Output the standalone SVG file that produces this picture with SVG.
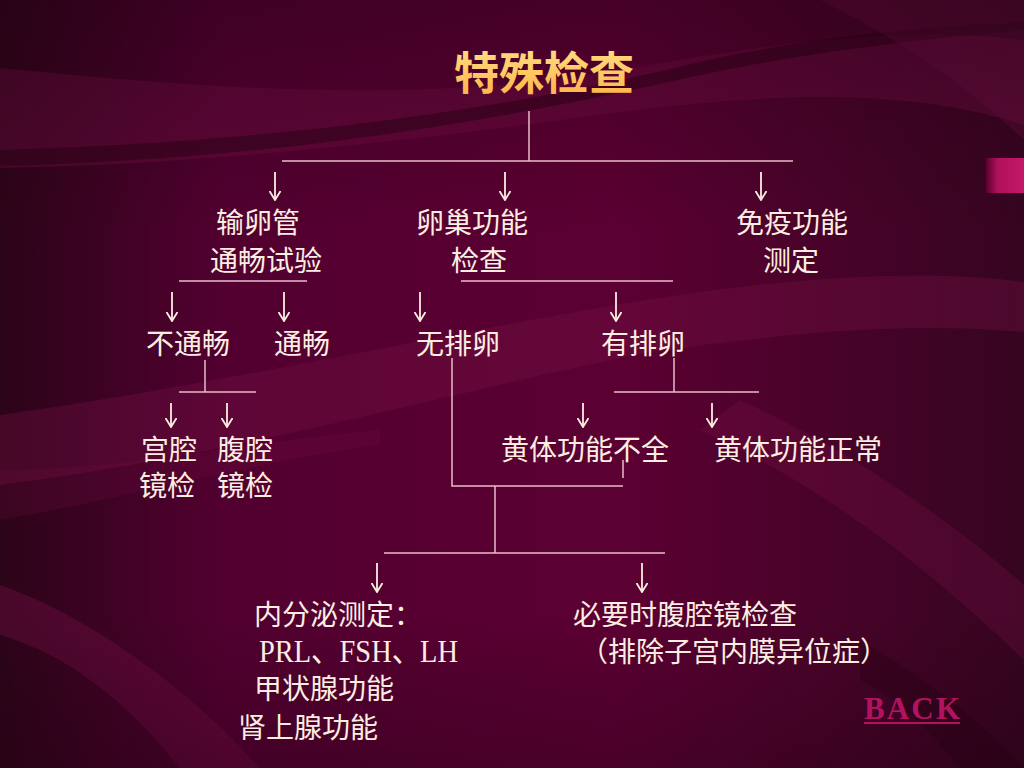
<svg xmlns="http://www.w3.org/2000/svg" width="1024" height="768" viewBox="0 0 1024 768">
<defs>
<linearGradient id="bg" x1="0" y1="0" x2="1" y2="0">
<stop offset="0" stop-color="#2c0418"/>
<stop offset="0.22" stop-color="#520030"/>
<stop offset="0.6" stop-color="#5c0033"/>
<stop offset="1" stop-color="#360520"/>
</linearGradient>
<linearGradient id="vig" x1="0" y1="0" x2="0" y2="1">
<stop offset="0" stop-color="#1e0010" stop-opacity="0.35"/>
<stop offset="0.3" stop-color="#1e0010" stop-opacity="0"/>
<stop offset="0.8" stop-color="#1e0010" stop-opacity="0"/>
<stop offset="1" stop-color="#1e0010" stop-opacity="0.3"/>
</linearGradient>
<linearGradient id="title" x1="0" y1="0" x2="0" y2="1">
<stop offset="0" stop-color="#ffe48e"/>
<stop offset="1" stop-color="#ffb040"/>
</linearGradient>
<linearGradient id="tab" x1="0" y1="0" x2="1" y2="0">
<stop offset="0" stop-color="#5a0030"/>
<stop offset="0.3" stop-color="#b0105a"/>
<stop offset="1" stop-color="#c4186a"/>
</linearGradient>
<marker id="ah" viewBox="0 0 10 12" refX="9.5" refY="6" markerWidth="10" markerHeight="12" markerUnits="userSpaceOnUse" orient="auto">
<path d="M0.5,0.5 L9.5,6 L0.5,11.5" fill="none" stroke="#fbeee0" stroke-width="1.8"/>
</marker>
</defs>
<style>
.t{font-family:"Liberation Serif","Noto Sans CJK SC",serif;font-size:28px;fill:#fbeee0}
.ln{stroke:#e8bcc6;stroke-width:1.5;fill:none}
.ar{stroke:#fbeee0;stroke-width:1.8;fill:none;marker-end:url(#ah)}
.sw{fill:#761046}
.dk{fill:#22000f}
</style>
<g id="background">
<rect width="1024" height="768" fill="url(#bg)"/>
<path class="sw" opacity="0.4" d="M0,68 C200,88 420,105 620,70 C760,45 900,25 1024,40 L1024,125 C900,85 760,95 620,112 C420,140 200,165 0,168 Z"/>
<path class="dk" opacity="0.45" d="M0,150 C250,142 470,118 700,62 C820,35 920,28 1024,22 L1024,30 C920,40 820,50 700,75 C470,128 250,160 0,166 Z"/>
<path class="sw" opacity="0.3" d="M820,0 L1024,0 L1024,140 C960,80 900,40 820,0 Z"/>
<path class="sw" opacity="0.35" d="M0,415 C250,380 500,320 700,292 C850,272 950,272 1024,282 L1024,332 C900,322 800,332 650,352 C450,392 250,452 0,485 Z"/>
<path class="sw" opacity="0.3" d="M740,400 C850,450 950,520 1024,585 L1024,660 C930,570 830,490 700,430 Z"/>
<path class="sw" opacity="0.4" d="M0,585 C100,620 200,700 260,768 L180,768 C130,705 70,655 0,635 Z"/>
<path class="sw" opacity="0.2" d="M0,470 C120,470 260,440 380,430 L380,445 C260,460 120,500 0,520 Z"/>
<path class="dk" opacity="0.3" d="M860,640 C930,680 980,720 1024,768 L960,768 C930,730 900,700 860,680 Z"/>
<rect width="1024" height="768" fill="url(#vig)"/>
<rect x="986" y="158" width="38" height="35" fill="url(#tab)"/>
</g>
<g id="connectors">
<path class="ln" d="M529,111 V161 M282,161 H793"/>
<path class="ln" d="M179,281 H307 M461,281 H673"/>
<path class="ln" d="M205,360 V392 M179,392 H256"/>
<path class="ln" d="M674,358 V392 M614,392 H759"/>
<path class="ln" d="M452,358 V486 H623 M623,460 V478"/>
<path class="ln" d="M495,486 V553 M384,553 H665"/>
<line class="ar" x1="275" y1="172" x2="275" y2="200"/>
<line class="ar" x1="505" y1="172" x2="505" y2="200"/>
<line class="ar" x1="761" y1="172" x2="761" y2="200"/>
<line class="ar" x1="172" y1="292" x2="172" y2="321"/>
<line class="ar" x1="284" y1="292" x2="284" y2="321"/>
<line class="ar" x1="420" y1="292" x2="420" y2="321"/>
<line class="ar" x1="616" y1="292" x2="616" y2="321"/>
<line class="ar" x1="171" y1="403" x2="171" y2="427"/>
<line class="ar" x1="227" y1="403" x2="227" y2="427"/>
<line class="ar" x1="583" y1="403" x2="583" y2="427"/>
<line class="ar" x1="712" y1="403" x2="712" y2="427"/>
<line class="ar" x1="377" y1="563" x2="377" y2="592"/>
<line class="ar" x1="642" y1="563" x2="642" y2="592"/>
</g>
<g id="n-title"><text x="454" y="90" style="font-family:'Noto Sans CJK SC',sans-serif;font-size:45px;font-weight:bold" fill="url(#title)">特殊检查</text></g>
<g id="n-tube"><text class="t" x="216" y="233">输卵管</text><text class="t" x="210" y="271">通畅试验</text></g>
<g id="n-ovary"><text class="t" x="416" y="233">卵巢功能</text><text class="t" x="451" y="271">检查</text></g>
<g id="n-immune"><text class="t" x="736" y="233">免疫功能</text><text class="t" x="763" y="271">测定</text></g>
<g id="n-blocked"><text class="t" x="146" y="354">不通畅</text></g>
<g id="n-open"><text class="t" x="274" y="354">通畅</text></g>
<g id="n-anov"><text class="t" x="416" y="354">无排卵</text></g>
<g id="n-ov"><text class="t" x="601" y="354">有排卵</text></g>
<g id="n-hys"><text class="t" x="141" y="460">宫腔</text><text class="t" x="139" y="496">镜检</text></g>
<g id="n-lap"><text class="t" x="217" y="460">腹腔</text><text class="t" x="217" y="496">镜检</text></g>
<g id="n-lpd"><text class="t" x="501" y="460">黄体功能不全</text></g>
<g id="n-lpn"><text class="t" x="714" y="460">黄体功能正常</text></g>
<g id="n-endo"><text class="t" x="254" y="625">内分泌测定：</text><text class="t" x="259" y="662" style="font-size:32px" textLength="199" lengthAdjust="spacingAndGlyphs">PRL、FSH、LH</text><text class="t" x="254" y="699">甲状腺功能</text><text class="t" x="238" y="738">肾上腺功能</text></g>
<g id="n-lapcheck"><text class="t" x="573" y="625">必要时腹腔镜检查</text><text class="t" x="580" y="662">（排除子宫内膜异位症）</text></g>
<g id="n-back"><text x="864" y="719" textLength="96" style="font-family:'Liberation Serif',serif;font-size:31px;font-weight:bold" fill="#b3125e">BACK</text><rect x="864" y="722" width="96" height="2" fill="#b3125e"/></g>
</svg>
